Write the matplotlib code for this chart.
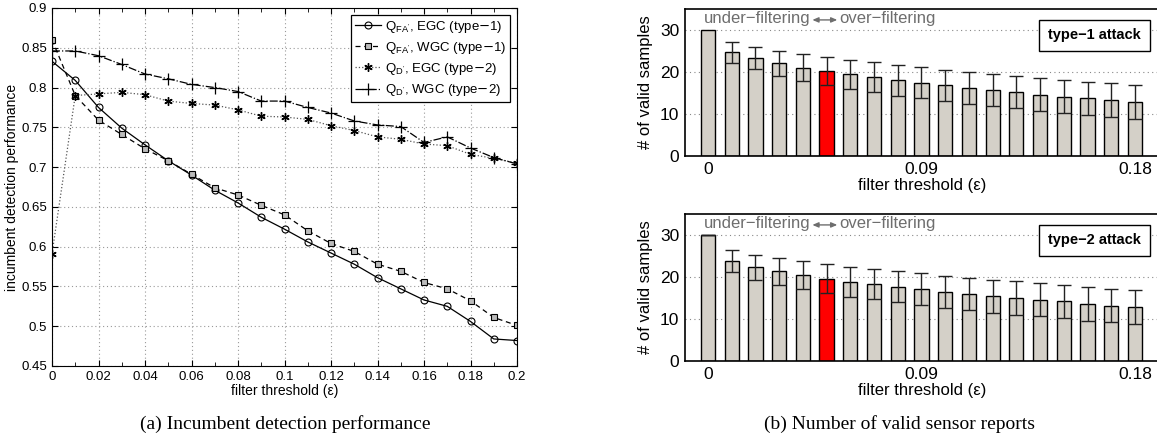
import numpy as np
import matplotlib.pyplot as plt
from matplotlib.ticker import MultipleLocator, FormatStrFormatter, FuncFormatter

# filter threshold values (left plot)
eps = [0.00, 0.01, 0.02, 0.03, 0.04, 0.05, 0.06, 0.07, 0.08, 0.09, 0.10,
       0.11, 0.12, 0.13, 0.14, 0.15, 0.16, 0.17, 0.18, 0.19, 0.20]

qfa_egc = [0.833, 0.809, 0.775, 0.749, 0.728, 0.708, 0.690, 0.671, 0.655, 0.637, 0.622,
           0.606, 0.592, 0.578, 0.561, 0.547, 0.533, 0.525, 0.506, 0.484, 0.482]
qfa_wgc = [0.860, 0.790, 0.759, 0.741, 0.723, 0.708, 0.691, 0.674, 0.665, 0.652, 0.640,
           0.620, 0.604, 0.594, 0.578, 0.569, 0.555, 0.547, 0.532, 0.511, 0.501]
qd_egc = [0.591, 0.790, 0.792, 0.794, 0.791, 0.783, 0.780, 0.778, 0.772, 0.764, 0.763,
          0.760, 0.752, 0.746, 0.738, 0.735, 0.729, 0.727, 0.716, 0.711, 0.705]
qd_wgc = [0.846, 0.846, 0.840, 0.829, 0.817, 0.811, 0.804, 0.800, 0.795, 0.783, 0.783,
          0.775, 0.768, 0.758, 0.753, 0.751, 0.731, 0.738, 0.724, 0.712, 0.704]

# valid samples per threshold (right plots), 0.00 ... 0.18
bar_labels = ["0", "0.09", "0.18"]
t1_mean = [30.0, 24.7, 23.3, 22.1, 21.0, 20.2, 19.5, 18.8, 18.0, 17.5,
           16.8, 16.3, 15.7, 15.2, 14.6, 14.1, 13.7, 13.3, 12.8]
t1_err = [0.0, 2.5, 2.7, 3.0, 3.2, 3.4, 3.45, 3.55, 3.65, 3.7,
          3.75, 3.8, 3.85, 3.85, 3.9, 3.95, 4.0, 4.05, 4.0]
t2_mean = [30.0, 23.8, 22.3, 21.4, 20.5, 19.6, 18.9, 18.3, 17.7, 17.1,
           16.5, 16.0, 15.4, 15.0, 14.6, 14.2, 13.6, 13.2, 12.8]
t2_err = [0.0, 2.65, 3.0, 3.2, 3.4, 3.45, 3.6, 3.65, 3.75, 3.8,
          3.85, 3.85, 3.95, 4.0, 4.0, 4.0, 4.0, 4.0, 4.0]
best_idx = 5

W, H = 1157, 441
fig = plt.figure(figsize=(W / 100, H / 100), dpi=100)
plt.rcParams['font.family'] = ['DejaVu Sans']
sans = ['Liberation Sans', 'DejaVu Sans']

# ---------------- left plot ----------------
ax = fig.add_axes([52 / W, 1 - 366 / H, (517 - 52) / W, (366 - 8) / H])
ax.plot(eps, qfa_egc, '-', color='k', lw=0.9, marker='o', ms=5, mfc='none', mew=0.8,
        label=r"$\mathregular{Q_{FA'}}$, EGC (type$-$1)")
ax.plot(eps, qfa_wgc, '--', color='k', lw=0.9, marker='s', ms=4, mfc='#bbbbbb', mew=0.8,
        dashes=(4, 3), label=r"$\mathregular{Q_{FA'}}$, WGC (type$-$1)")
ax.plot(eps, qd_egc, ':', color='#555555', lw=0.9, marker=(6, 2, 0), ms=6, mec='k', mew=1.0,
        label=r"$\mathregular{Q_{D'}}$, EGC (type$-$2)")
ax.plot(eps, qd_wgc, '-.', color='k', lw=0.9, marker='+', ms=8, mew=0.9,
        label=r"$\mathregular{Q_{D'}}$, WGC (type$-$2)")
ax.set_xlim(0, 0.2)
ax.set_ylim(0.45, 0.9)
ax.xaxis.set_major_locator(MultipleLocator(0.02))
ax.xaxis.set_minor_locator(MultipleLocator(0.01))
ax.yaxis.set_major_locator(MultipleLocator(0.05))
ax.xaxis.set_major_formatter(FuncFormatter(lambda v, p: f"{round(v, 3):g}"))
ax.yaxis.set_major_formatter(FuncFormatter(lambda v, p: f"{round(v, 3):g}"))
ax.tick_params(which='both', direction='in', top=True, right=True, labelsize=9.5)
ax.tick_params(which='major', length=4)
ax.tick_params(which='minor', length=3)
ax.grid(True, which='major', linestyle=(0, (1, 2.5)), color='#999999', lw=0.8)
for lab in ax.get_xticklabels() + ax.get_yticklabels():
    lab.set_family(sans)
ax.set_xlabel("filter threshold (ε)", fontsize=10, family=sans, labelpad=1)
ax.set_ylabel("incumbent detection performance", fontsize=10, family=sans, labelpad=2)
leg = ax.legend(loc='upper right', handlelength=2.0, handletextpad=0.3,
                labelspacing=0.4, borderpad=0.3, fancybox=False, framealpha=1,
                edgecolor='k', prop={'family': sans, 'size': 9.5})
leg.get_frame().set_linewidth(0.9)

# ---------------- right plots ----------------
x = np.arange(len(t1_mean))
colors = ['#d4d0c8'] * len(x)
colors[best_idx] = '#ff0000'
bar_w = 0.6
x0 = -0.97
x1 = x0 + (1160 - 685) / 23.72

def bars(ax, mean, err, tag, show_first_err):
    ax.bar(x, mean, width=bar_w, color=colors, edgecolor='k', linewidth=1.0, zorder=2)
    start = 0 if show_first_err else 1
    ax.errorbar(x[start:], mean[start:], yerr=err[start:], fmt='none', ecolor='#222222',
                elinewidth=1.0, capsize=4.8, capthick=1.0, zorder=3)
    ax.set_xlim(x0, x1)
    ax.set_ylim(0, 35)
    ax.set_yticks([0, 10, 20, 30])
    ax.set_xticks([0, 9, 18])
    ax.set_xticklabels(bar_labels)
    ax.tick_params(axis='both', length=0, labelsize=12.5, pad=4)
    for lab in ax.get_xticklabels() + ax.get_yticklabels():
        lab.set_family(sans)
    ax.yaxis.grid(True, linestyle=(0, (1, 3)), color='#888888', lw=0.8, zorder=0)
    ax.set_axisbelow(True)
    for s in ax.spines.values():
        s.set_linewidth(1.2)
    ax.set_xlabel("filter threshold (ε)", fontsize=12, family=sans, labelpad=1)
    ax.set_ylabel("# of valid samples", fontsize=12, family=sans, labelpad=5)
    gray = '#6e6e6e'
    ax.text(4.3, 31.0, "under−filtering", color=gray, fontsize=12,
            family=sans, va='bottom', ha='right')
    ax.annotate("", xy=(5.45, 32.4), xytext=(4.4, 32.4),
                arrowprops=dict(arrowstyle='<|-|>,head_length=0.35,head_width=0.15',
                                color=gray, lw=1.0, shrinkA=0, shrinkB=0))
    ax.text(5.55, 31.0, "over−filtering", color=gray, fontsize=12,
            family=sans, va='bottom', ha='left')
    ax.text(0.862, 0.82, tag, transform=ax.transAxes, fontsize=10.5, fontweight='bold',
            family=sans, ha='center', va='center',
            bbox=dict(boxstyle='square,pad=0.6', fc='white', ec='k', lw=1.0))

axt = fig.add_axes([685 / W, 1 - 156 / H, (1160 - 685) / W, (156 - 9) / H])
bars(axt, t1_mean, t1_err, "type−1 attack", False)
axb = fig.add_axes([685 / W, 1 - 361 / H, (1160 - 685) / W, (361 - 214) / H])
bars(axb, t2_mean, t2_err, "type−2 attack", True)

# captions
serif = ['Liberation Serif', 'DejaVu Serif']
fig.text(285 / W, 1 - 424 / H, "(a) Incumbent detection performance", fontsize=14,
         family=serif, ha='center', va='center')
fig.text(900 / W, 1 - 424 / H, "(b) Number of valid sensor reports", fontsize=14,
         family=serif, ha='center', va='center')

fig.savefig("out.png", dpi=100)
